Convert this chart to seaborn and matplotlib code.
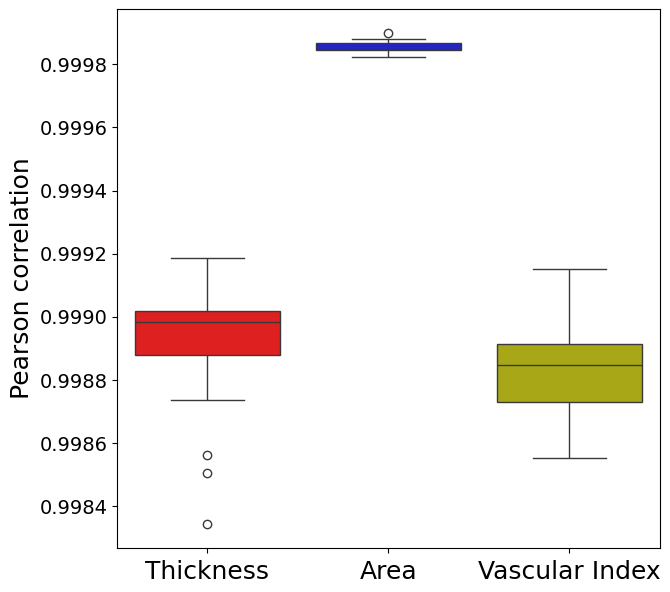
import matplotlib
matplotlib.use("Agg")
import matplotlib.pyplot as plt
import numpy as np
import pandas as pd
import seaborn as sns
from matplotlib.ticker import FormatStrFormatter

# per-fold Pearson correlations
thickness = [0.9983461, 0.9985045, 0.9985631, 0.9987357, 0.9988792, 0.99892,
             0.99895, 0.99897, 0.998985, 0.99899, 0.999, 0.99901, 0.9990186,
             0.99905, 0.99909, 0.99914, 0.9991855]
area = [0.9998212, 0.999838, 0.9998453, 0.99985, 0.9998548, 0.99986,
        0.9998656, 0.9998805, 0.9998975]
vascular = [0.998552, 0.99868, 0.9987316, 0.99879, 0.9988475, 0.99888,
            0.9989153, 0.99903, 0.9991507]

categories = ["Thickness", "Area", "Vascular Index"]
colors = ["red", "blue", "y"]

df = pd.concat([
    pd.DataFrame({"metric": name, "corr": vals})
    for name, vals in zip(categories, [thickness, area, vascular])
])

fig, ax = plt.subplots(figsize=(6.7, 5.92), dpi=100)
sns.boxplot(data=df, x="metric", y="corr", hue="metric", order=categories,
            palette=colors, legend=False, ax=ax)

ax.set_xlabel("")
ax.set_ylabel("Pearson correlation", fontsize=18)
ax.tick_params(axis="x", labelsize=18, pad=5)
ax.tick_params(axis="y", labelsize=14)
ax.yaxis.set_major_formatter(FormatStrFormatter("%.4f"))

fig.subplots_adjust(left=0.1746, right=0.985, top=0.985, bottom=0.0743)
fig.savefig("out.png", dpi=100)
